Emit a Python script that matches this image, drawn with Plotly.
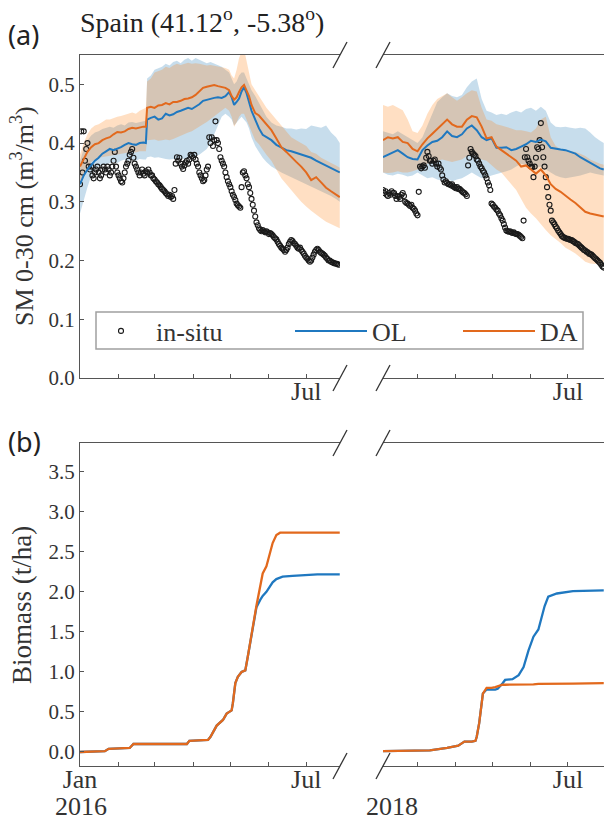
import pandas as pd
import plotly.graph_objects as go

# ---------------- DATA ----------------
# Soil moisture 2016 (days since 2016-01-01)
sm16_days = [0, 3, 6, 9, 12, 15, 18, 21, 24, 27, 30, 33, 36, 39, 42, 45, 48, 51, 53, 54, 57, 60, 63, 66, 69, 72, 75, 78, 81, 84,
             87, 90, 93, 96, 99, 102, 105, 108, 111, 114, 117, 120, 122, 124, 126, 128, 130, 132, 134, 136, 138, 141, 144, 147,
             150, 154, 158, 162, 166, 170, 174, 178, 182, 186, 190, 194, 198, 202, 206, 209]
ol16_mean = [0.33, 0.345, 0.355, 0.362, 0.37, 0.375, 0.382, 0.386, 0.39, 0.388, 0.39, 0.393, 0.397, 0.40, 0.398, 0.397, 0.40, 0.401,
             0.40, 0.44, 0.443, 0.445, 0.44, 0.442, 0.45, 0.447, 0.449, 0.453, 0.455, 0.458, 0.46, 0.458, 0.462, 0.466, 0.472,
             0.474, 0.475, 0.477, 0.478, 0.477, 0.48, 0.487, 0.478, 0.465, 0.47, 0.476, 0.488, 0.495, 0.485, 0.47, 0.455, 0.44,
             0.425, 0.414, 0.41, 0.405, 0.397, 0.392, 0.388, 0.386, 0.383, 0.381, 0.378, 0.375, 0.37, 0.366, 0.361, 0.357, 0.353, 0.35]
da16_mean = [0.36, 0.372, 0.385, 0.393, 0.398, 0.40, 0.405, 0.408, 0.41, 0.415, 0.419, 0.418, 0.42, 0.424, 0.426, 0.425, 0.427,
             0.428, 0.428, 0.46, 0.462, 0.46, 0.464, 0.465, 0.468, 0.466, 0.47, 0.47, 0.472, 0.475, 0.476, 0.478, 0.482, 0.488,
             0.494, 0.496, 0.498, 0.499, 0.497, 0.496, 0.494, 0.49, 0.48, 0.474, 0.478, 0.487, 0.495, 0.499, 0.49, 0.48, 0.465,
             0.451, 0.447, 0.44, 0.432, 0.422, 0.408, 0.393, 0.385, 0.376, 0.368, 0.36, 0.35, 0.337, 0.342, 0.333, 0.324, 0.318, 0.312, 0.308]
ol16_lo = [0.28, 0.30, 0.325, 0.345, 0.355, 0.36, 0.362, 0.365, 0.366, 0.368, 0.366, 0.37, 0.372, 0.37, 0.372, 0.37, 0.373, 0.372,
           0.372, 0.376, 0.377, 0.375, 0.376, 0.374, 0.373, 0.372, 0.373, 0.372, 0.374, 0.373, 0.375, 0.376, 0.378, 0.38, 0.385,
           0.39, 0.40, 0.415, 0.43, 0.445, 0.45, 0.445, 0.44, 0.43, 0.435, 0.44, 0.445, 0.44, 0.435, 0.425, 0.41, 0.395, 0.385,
           0.375, 0.368, 0.36, 0.355, 0.35, 0.345, 0.342, 0.337, 0.334, 0.33, 0.326, 0.322, 0.318, 0.314, 0.31, 0.305, 0.30]
ol16_hi = [0.37, 0.39, 0.405, 0.413, 0.418, 0.42, 0.424, 0.426, 0.428, 0.426, 0.43, 0.432, 0.43, 0.435, 0.436, 0.434, 0.436, 0.438,
           0.438, 0.51, 0.515, 0.525, 0.528, 0.53, 0.535, 0.532, 0.538, 0.54, 0.536, 0.542, 0.545, 0.54, 0.545, 0.542, 0.54,
           0.536, 0.538, 0.535, 0.532, 0.53, 0.525, 0.52, 0.51, 0.50, 0.505, 0.515, 0.52, 0.52, 0.51, 0.50, 0.49, 0.48, 0.468,
           0.455, 0.445, 0.435, 0.43, 0.428, 0.425, 0.425, 0.423, 0.425, 0.424, 0.43, 0.428, 0.426, 0.43, 0.418, 0.41, 0.40]
da16_lo = [0.33, 0.345, 0.36, 0.368, 0.372, 0.375, 0.377, 0.378, 0.378, 0.38, 0.38, 0.382, 0.383, 0.384, 0.385, 0.384, 0.386, 0.386,
           0.386, 0.405, 0.405, 0.406, 0.404, 0.405, 0.406, 0.405, 0.407, 0.41, 0.412, 0.415, 0.418, 0.42, 0.424, 0.428, 0.432,
           0.436, 0.44, 0.445, 0.45, 0.455, 0.46, 0.455, 0.445, 0.428, 0.435, 0.445, 0.45, 0.45, 0.44, 0.43, 0.42, 0.405, 0.398,
           0.39, 0.38, 0.37, 0.355, 0.34, 0.33, 0.32, 0.31, 0.30, 0.292, 0.285, 0.278, 0.272, 0.266, 0.262, 0.258, 0.255]
da16_hi = [0.38, 0.40, 0.415, 0.425, 0.43, 0.432, 0.436, 0.44, 0.44, 0.443, 0.445, 0.446, 0.448, 0.45, 0.452, 0.45, 0.455, 0.458,
           0.46, 0.505, 0.51, 0.52, 0.522, 0.525, 0.53, 0.528, 0.532, 0.535, 0.533, 0.535, 0.537, 0.535, 0.536, 0.535, 0.534,
           0.532, 0.533, 0.532, 0.53, 0.53, 0.528, 0.525, 0.515, 0.51, 0.525, 0.545, 0.555, 0.56, 0.54, 0.515, 0.50, 0.49, 0.48,
           0.47, 0.46, 0.45, 0.44, 0.43, 0.42, 0.41, 0.405, 0.40, 0.395, 0.385, 0.382, 0.375, 0.37, 0.366, 0.362, 0.358]

# Soil moisture 2018 (days since 2018-02-01)
sm18_days = [0, 4, 8, 12, 16, 20, 24, 28, 32, 36, 40, 44, 48, 52, 56, 60, 64, 68, 72, 76, 80, 84, 88, 92, 96, 100, 104, 108,
             112, 116, 120, 124, 128, 132, 136, 140, 144, 148, 152, 156, 160, 164, 168, 172, 176, 179]
ol18_mean = [0.376, 0.38, 0.384, 0.388, 0.382, 0.376, 0.373, 0.372, 0.388, 0.396, 0.402, 0.404, 0.41, 0.42, 0.412, 0.41, 0.415,
             0.425, 0.43, 0.422, 0.41, 0.405, 0.408, 0.392, 0.392, 0.393, 0.388, 0.39, 0.394, 0.398, 0.404, 0.402, 0.406, 0.403,
             0.392, 0.39, 0.389, 0.388, 0.385, 0.382, 0.376, 0.371, 0.366, 0.362, 0.357, 0.355]
da18_mean = [0.405, 0.41, 0.408, 0.41, 0.402, 0.40, 0.39, 0.386, 0.398, 0.408, 0.416, 0.424, 0.432, 0.44, 0.432, 0.428, 0.428,
             0.44, 0.446, 0.444, 0.428, 0.408, 0.41, 0.394, 0.388, 0.382, 0.376, 0.37, 0.36, 0.362, 0.355, 0.348, 0.355, 0.345,
             0.33, 0.322, 0.317, 0.31, 0.304, 0.298, 0.29, 0.283, 0.28, 0.278, 0.276, 0.275]
ol18_lo = [0.35, 0.346, 0.345, 0.348, 0.346, 0.343, 0.345, 0.35, 0.345, 0.34, 0.342, 0.338, 0.336, 0.34, 0.335, 0.338, 0.34,
           0.345, 0.35, 0.345, 0.34, 0.342, 0.345, 0.348, 0.35, 0.352, 0.355, 0.36, 0.365, 0.362, 0.36, 0.358, 0.36, 0.355,
           0.35, 0.345, 0.342, 0.34, 0.342, 0.343, 0.345, 0.347, 0.35, 0.348, 0.346, 0.345]
ol18_hi = [0.42, 0.418, 0.415, 0.42, 0.415, 0.41, 0.405, 0.40, 0.41, 0.43, 0.45, 0.47, 0.478, 0.485, 0.48, 0.478, 0.482, 0.495,
           0.505, 0.51, 0.475, 0.455, 0.452, 0.448, 0.45, 0.448, 0.452, 0.455, 0.452, 0.458, 0.46, 0.455, 0.462, 0.455, 0.435,
           0.428, 0.427, 0.428, 0.426, 0.425, 0.426, 0.425, 0.418, 0.41, 0.404, 0.40]
da18_lo = [0.35, 0.349, 0.35, 0.352, 0.35, 0.35, 0.352, 0.355, 0.36, 0.365, 0.368, 0.37, 0.372, 0.37, 0.368, 0.37, 0.372, 0.378,
           0.38, 0.378, 0.372, 0.37, 0.362, 0.355, 0.35, 0.34, 0.33, 0.32, 0.305, 0.29, 0.28, 0.272, 0.262, 0.252, 0.243, 0.237,
           0.23, 0.222, 0.217, 0.212, 0.205, 0.198, 0.195, 0.194, 0.196, 0.198]
da18_hi = [0.465, 0.462, 0.465, 0.46, 0.456, 0.44, 0.42, 0.417, 0.43, 0.45, 0.465, 0.475, 0.48, 0.485, 0.478, 0.472, 0.478,
           0.485, 0.49, 0.488, 0.46, 0.44, 0.438, 0.432, 0.43, 0.428, 0.425, 0.422, 0.422, 0.42, 0.418, 0.425, 0.44, 0.445,
           0.41, 0.395, 0.39, 0.388, 0.387, 0.385, 0.382, 0.378, 0.372, 0.368, 0.365, 0.363]

# In-situ soil moisture, one value per day
insitu16 = [0.33, 0.42, 0.35, 0.42, 0.37, 0.39, 0.40, 0.36, 0.355, 0.36, 0.345, 0.34, 0.35, 0.355, 0.36, 0.35, 0.34, 0.345,
            0.355, 0.36, 0.355, 0.35, 0.36, 0.355, 0.345, 0.35, 0.36, 0.37, 0.385, 0.36, 0.35, 0.345, 0.34, 0.335, 0.333, 0.34,
            0.35, 0.36, 0.365, 0.37, 0.38, 0.385, 0.39, 0.375, 0.365, 0.36, 0.355, 0.35, 0.345, 0.35, 0.355, 0.348, 0.345,
            0.352, 0.35, 0.355, 0.35, 0.345, 0.345, 0.34, 0.338, 0.335, 0.333, 0.33, 0.328, 0.325, 0.322, 0.32, 0.318, 0.315,
            0.313, 0.31, 0.312, 0.308, 0.31, 0.305, 0.32, 0.365, 0.376, 0.37, 0.375, 0.365, 0.36, 0.356, 0.362, 0.367, 0.37,
            0.365, 0.372, 0.38, 0.378, 0.375, 0.38, 0.372, 0.365, 0.36, 0.35, 0.345, 0.34, 0.335, 0.337, 0.345, 0.355, 0.36,
            0.41, 0.40, 0.41, 0.395, 0.405, 0.437, 0.405, 0.40, 0.39, 0.376, 0.37, 0.365, 0.36, 0.35, 0.342, 0.335, 0.33, 0.325,
            0.318, 0.312, 0.308, 0.303, 0.297, 0.294, 0.292, 0.29, 0.325, 0.35, 0.352, 0.345, 0.34, 0.33, 0.325, 0.315, 0.305,
            0.295, 0.285, 0.275, 0.265, 0.26, 0.255, 0.252, 0.25, 0.252, 0.25, 0.248, 0.25, 0.248, 0.245, 0.247, 0.245, 0.243,
            0.24, 0.238, 0.236, 0.232, 0.228, 0.225, 0.222, 0.22, 0.218, 0.215, 0.218, 0.222, 0.228, 0.232, 0.235, 0.233,
            0.23, 0.228, 0.225, 0.222, 0.22, 0.222, 0.218, 0.215, 0.212, 0.208, 0.205, 0.203, 0.2, 0.198, 0.2, 0.205, 0.21,
            0.215, 0.218, 0.22, 0.218, 0.215, 0.213, 0.212, 0.21, 0.208, 0.205, 0.203, 0.2, 0.2, 0.198, 0.197, 0.196, 0.195,
            0.195, 0.194, 0.193]
insitu18 = [0.32, 0.315, 0.318, 0.312, 0.31, 0.315, 0.312, 0.318, 0.315, 0.315, 0.31, 0.305, 0.31, 0.308, 0.305, 0.312,
            0.315, 0.31, 0.30, 0.298, 0.297, 0.295, 0.293, 0.295, 0.29, 0.288, 0.285, 0.28, 0.277, 0.317, 0.36, 0.357, 0.36,
            0.362, 0.358, 0.375, 0.385, 0.378, 0.37, 0.37, 0.365, 0.37, 0.372, 0.365, 0.36, 0.365, 0.358, 0.355, 0.345,
            0.338, 0.333, 0.335, 0.332, 0.33, 0.33, 0.328, 0.33, 0.326, 0.325, 0.323, 0.325, 0.322, 0.322, 0.32, 0.318,
            0.316, 0.315, 0.313, 0.31, 0.362, 0.375, 0.39, 0.385, 0.382, 0.38, 0.378, 0.372, 0.37, 0.365, 0.36, 0.357,
            0.353, 0.35, 0.345, 0.34, 0.333, 0.328, 0.32, 0.297, 0.295, 0.292, 0.29, 0.287, 0.285, 0.28, 0.277, 0.272,
            0.268, 0.262, 0.256, 0.251, 0.25, 0.249, 0.25, 0.248, 0.247, 0.248, 0.246, 0.245, 0.245, 0.244, 0.242, 0.24,
            0.238, 0.268, 0.376, 0.39, 0.376, 0.37, 0.365, 0.36, 0.359, 0.342, 0.36, 0.375, 0.393, 0.39, 0.405, 0.434,
            0.393, 0.376, 0.36, 0.342, 0.325, 0.308, 0.295, 0.285, 0.268, 0.265, 0.262, 0.258, 0.255, 0.251, 0.248, 0.245,
            0.242, 0.24, 0.239, 0.238, 0.237, 0.237, 0.236, 0.235, 0.235, 0.233, 0.232, 0.23, 0.229, 0.228, 0.226, 0.224,
            0.222, 0.22, 0.218, 0.217, 0.215, 0.214, 0.212, 0.211, 0.21, 0.208, 0.206, 0.204, 0.202, 0.2, 0.198, 0.196,
            0.193, 0.19, 0.188]

# Biomass 2016 (days since 2016-01-01)
bio16_days = [0, 20, 23, 40, 43, 86, 88, 103, 105, 107, 110, 115, 118, 122, 123, 125, 127, 130, 133, 135, 138, 141, 142,
              145, 147, 150, 153, 155, 158, 161, 163, 171, 191, 209]
bio16_ol = [0.0, 0.01, 0.04, 0.05, 0.1, 0.1, 0.14, 0.15, 0.19, 0.24, 0.33, 0.40, 0.48, 0.52, 0.61, 0.86, 0.94, 1.0, 1.02,
            1.19, 1.44, 1.74, 1.81, 1.90, 1.95, 2.0, 2.07, 2.12, 2.16, 2.18, 2.19, 2.2, 2.22, 2.22]
bio16_da = [0.0, 0.01, 0.04, 0.05, 0.1, 0.1, 0.14, 0.15, 0.19, 0.24, 0.33, 0.40, 0.48, 0.52, 0.61, 0.86, 0.94, 1.0, 1.02,
            1.19, 1.44, 1.74, 1.83, 2.07, 2.23, 2.32, 2.48, 2.61, 2.71, 2.74, 2.74, 2.74, 2.74, 2.74]
# Biomass 2018 (days since 2018-02-01)
bio18_days = [0, 38, 52, 61, 66, 72, 75, 76, 78, 80, 81, 84, 88, 91, 93, 95, 97, 99, 105, 110, 114, 118, 122, 126, 128,
              131, 134, 141, 154, 179]
bio18_ol = [0.01, 0.02, 0.05, 0.08, 0.13, 0.13, 0.14, 0.19, 0.36, 0.57, 0.73, 0.78, 0.78, 0.78, 0.79, 0.82, 0.86, 0.90,
            0.91, 0.96, 1.06, 1.27, 1.44, 1.53, 1.65, 1.82, 1.94, 1.98, 2.01, 2.02]
bio18_da = [0.01, 0.02, 0.05, 0.08, 0.13, 0.13, 0.14, 0.19, 0.36, 0.57, 0.73, 0.80, 0.80, 0.81, 0.82, 0.83, 0.84, 0.84,
            0.84, 0.84, 0.84, 0.845, 0.845, 0.85, 0.85, 0.85, 0.85, 0.855, 0.855, 0.86]

sm_ticks = [0.0, 0.1, 0.2, 0.3, 0.4, 0.5]
bio_ticks = [0.0, 0.5, 1.0, 1.5, 2.0, 2.5, 3.0, 3.5]

# ---------------- STYLE ----------------
W, H = 604, 821
BLUE = "#1f78c0"
ORANGE = "#e2691d"
BLUE_FILL = "rgba(31,119,180,0.25)"
ORANGE_FILL = "rgba(255,127,14,0.25)"
SERIF = "Liberation Serif"
AX = "#555555"
TXT = "#333333"

B16 = pd.Timestamp("2016-01-01")
B18 = pd.Timestamp("2018-02-01")


def to_dates(base, days):
    return [base + pd.Timedelta(days=float(d)) for d in days]


def px(x):
    return x / W


def py(y):
    return 1 - y / H


fig = go.Figure()


def band(base, days, lo, hi, color, xa, ya):
    d = to_dates(base, days)
    fig.add_trace(go.Scatter(x=d + d[::-1], y=hi + lo[::-1], fill="toself", fillcolor=color,
                             line=dict(width=0), mode="lines", showlegend=False, hoverinfo="skip",
                             xaxis=xa, yaxis=ya))


band(B16, sm16_days, ol16_lo, ol16_hi, BLUE_FILL, "x", "y")
band(B16, sm16_days, da16_lo, da16_hi, ORANGE_FILL, "x", "y")
band(B18, sm18_days, ol18_lo, ol18_hi, BLUE_FILL, "x2", "y2")
band(B18, sm18_days, da18_lo, da18_hi, ORANGE_FILL, "x2", "y2")

mk = dict(symbol="circle-open", size=5, color="#1a1a1a", line=dict(width=1.1))
fig.add_trace(go.Scatter(x=to_dates(B16, range(len(insitu16))), y=insitu16, mode="markers", marker=mk,
                         name="in-situ", legend="legend", xaxis="x", yaxis="y"))
fig.add_trace(go.Scatter(x=to_dates(B18, range(len(insitu18))), y=insitu18, mode="markers", marker=mk,
                         name="in-situ", showlegend=False, xaxis="x2", yaxis="y2"))

fig.add_trace(go.Scatter(x=to_dates(B16, sm16_days), y=ol16_mean, mode="lines", line=dict(color=BLUE, width=2),
                         name="OL", legend="legend2", xaxis="x", yaxis="y"))
fig.add_trace(go.Scatter(x=to_dates(B18, sm18_days), y=ol18_mean, mode="lines", line=dict(color=BLUE, width=2),
                         name="OL", showlegend=False, xaxis="x2", yaxis="y2"))
fig.add_trace(go.Scatter(x=to_dates(B16, sm16_days), y=da16_mean, mode="lines", line=dict(color=ORANGE, width=2),
                         name="DA", legend="legend3", xaxis="x", yaxis="y"))
fig.add_trace(go.Scatter(x=to_dates(B18, sm18_days), y=da18_mean, mode="lines", line=dict(color=ORANGE, width=2),
                         name="DA", showlegend=False, xaxis="x2", yaxis="y2"))

for base, days, ol, da, xa, ya in [(B16, bio16_days, bio16_ol, bio16_da, "x3", "y3"),
                                   (B18, bio18_days, bio18_ol, bio18_da, "x4", "y4")]:
    d = to_dates(base, days)
    fig.add_trace(go.Scatter(x=d, y=ol, mode="lines", line=dict(color=BLUE, width=2.3), showlegend=False,
                             xaxis=xa, yaxis=ya))
    fig.add_trace(go.Scatter(x=d, y=da, mode="lines", line=dict(color=ORANGE, width=2.3), showlegend=False,
                             xaxis=xa, yaxis=ya))

# ---------------- AXES ----------------
LX = [px(80), px(340)]
RX = [px(383), 1.0]
DA_Y = [py(378), py(55)]
DB_Y = [py(766), py(443)]

ticks16 = to_dates(B16, [0, 31, 60, 91, 121, 152, 182])
ticks18 = to_dates(pd.Timestamp("2018-01-01"), [31, 59, 90, 120, 151, 181])

xcommon = dict(showline=True, linecolor=AX, linewidth=1.2, mirror=True, ticks="inside", ticklen=4, tickcolor=AX,
               showgrid=False, zeroline=False, tickfont=dict(family=SERIF, size=26, color=TXT), tickangle=0,
               automargin=False, ticklabelstandoff=-10)
ycommon = dict(showline=True, linecolor=AX, linewidth=1.2, mirror=False, ticks="inside", ticklen=4, tickcolor=AX,
               showgrid=False, zeroline=False, tickfont=dict(family=SERIF, size=21, color=TXT), automargin=False)
hidden = dict(visible=False, showgrid=False, zeroline=False)

r16 = [B16, B16 + pd.Timedelta(days=209.2)]
r18 = [B18, B18 + pd.Timedelta(days=179.2)]

fig.update_layout(
    xaxis=dict(domain=LX, anchor="y", range=r16, tickvals=ticks16, ticktext=["", "", "", "", "", "", "Jul"], **xcommon),
    yaxis=dict(domain=DA_Y, anchor="x", range=[0, 0.55], tickvals=sm_ticks, tickformat=".1f", **ycommon),
    xaxis2=dict(domain=RX, anchor="y2", range=r18, tickvals=ticks18, ticktext=["", "", "", "", "", "Jul"], **xcommon),
    yaxis2=dict(domain=DA_Y, anchor="x2", range=[0, 0.55], **hidden),
    xaxis3=dict(domain=LX, anchor="y3", range=r16, tickvals=ticks16,
                ticktext=["Jan", "", "", "", "", "", "Jul"], **xcommon),
    yaxis3=dict(domain=DB_Y, anchor="x3", range=[-0.175, 3.86], tickvals=bio_ticks, tickformat=".1f", **ycommon),
    xaxis4=dict(domain=RX, anchor="y4", range=r18, tickvals=ticks18,
                ticktext=["", "", "", "", "", "Jul"], **xcommon),
    yaxis4=dict(domain=DB_Y, anchor="x4", range=[-0.175, 3.86], **hidden),
)

# break marks
shapes = []
for cy in [55, 378, 443, 766]:
    for cx in [340, 383]:
        shapes.append(dict(type="line", xref="paper", yref="paper", x0=px(cx - 7), y0=py(cy + 13),
                           x1=px(cx + 7), y1=py(cy - 13), line=dict(color="#333333", width=1.3)))
# legend frame
shapes.append(dict(type="rect", xref="paper", yref="paper", x0=px(96), x1=px(583), y0=py(349), y1=py(312),
                   line=dict(color="#a0a0a0", width=1.5), fillcolor="white", layer="above"))


def ann(text, x, y, size, family=SERIF, xanchor="left", angle=0, color="#222222"):
    return dict(text=text, x=px(x), y=py(y), xref="paper", yref="paper", xanchor=xanchor, yanchor="middle",
                textangle=angle, showarrow=False, font=dict(family=family, size=size, color=color))


annotations = [
    ann("(a)", 6, 34, 27, family="Noto Sans"),
    ann("(b)", 6, 442, 27, family="Noto Sans"),
    ann("Spain (41.12<sup>o</sup>, -5.38<sup>o</sup>)", 78, 21, 28),
    ann("SM 0-30 cm (m<sup>3</sup>/m<sup>3</sup>)", 22, 216, 26, xanchor="center", angle=-90, color=TXT),
    ann("Biomass (t/ha)", 22, 605, 27, xanchor="center", angle=-90, color=TXT),
    ann("2016", 81, 806, 26, xanchor="center", color=TXT),
    ann("2018", 392, 806, 26, xanchor="center", color=TXT),
]

leg = dict(orientation="h", yanchor="middle", y=py(331), xanchor="left", borderwidth=0,
           bgcolor="rgba(0,0,0,0)", font=dict(family=SERIF, size=26, color=TXT))

fig.update_layout(
    width=W, height=H, margin=dict(l=0, r=0, t=0, b=0, autoexpand=False),
    paper_bgcolor="white", plot_bgcolor="white",
    font=dict(family=SERIF, color=TXT),
    shapes=shapes, annotations=annotations,
    legend=dict(x=px(86), itemwidth=60, **leg),
    legend2=dict(x=px(290), itemwidth=72, **leg),
    legend3=dict(x=px(458), itemwidth=72, **leg),
)

fig.write_html("out.html", config={"displayModeBar": False},
               post_script="document.body.style.margin='0';document.body.style.overflow='hidden';")
